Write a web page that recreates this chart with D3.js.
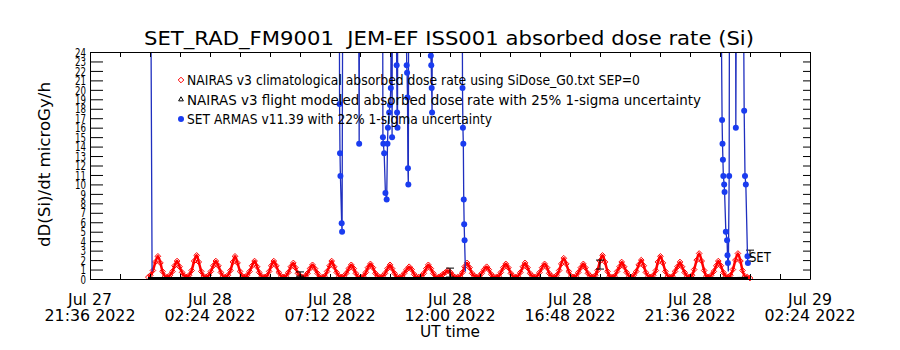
<!DOCTYPE html>
<html>
<head>
<meta charset="utf-8">
<script src="https://cdnjs.cloudflare.com/ajax/libs/d3/7.8.5/d3.min.js"></script>
<style>
  body { margin: 0; background: #fff; }
  text { font-family: 'DejaVu Sans', sans-serif; fill: #000; }
</style>
</head>
<body>
<div id="chart-area"></div>
<script>
// Data

// Axis range and tick labels
const timeDomain = ['2022-07-27 21:36', '2022-07-29 02:24'];
const tickLine1 = ['Jul 27', 'Jul 28', 'Jul 28', 'Jul 28', 'Jul 28', 'Jul 28', 'Jul 29'];
const tickLine2 = ['21:36 2022', '02:24 2022', '07:12 2022', '12:00 2022', '16:48 2022', '21:36 2022', '02:24 2022'];
const doseTicks = d3.range(0, 25);

// NAIRAS v3 climatological dose rate (microGy/h), regular samples
const climStart = '2022-07-27 23:56';
const climStepMin = 5.8;
const climDose = [
  0.2, 0.4, 0.9, 1.8, 2.4, 1.7, 0.8, 0.3,
  0.2, 0.4, 0.8, 1.4, 1.9, 1.3, 0.7, 0.3,
  0.2, 0.4, 0.9, 1.9, 2.5, 1.8, 0.8, 0.3,
  0.2, 0.4, 0.8, 1.4, 1.9, 1.4, 0.7, 0.3,
  0.2, 0.4, 0.9, 1.8, 2.4, 1.7, 0.8, 0.3,
  0.2, 0.4, 0.8, 1.4, 1.9, 1.3, 0.7, 0.3,
  0.2, 0.3, 0.8, 1.4, 1.9, 1.4, 0.7, 0.3,
  0.2, 0.3, 0.7, 1.3, 1.7, 1.2, 0.6, 0.3,
  0.2, 0.3, 0.6, 1.1, 1.5, 1.1, 0.6, 0.2,
  0.2, 0.3, 0.8, 1.4, 1.9, 1.3, 0.7, 0.3,
  0.2, 0.3, 0.6, 1.1, 1.5, 1.1, 0.6, 0.2,
  0.2, 0.3, 0.7, 1.2, 1.6, 1.2, 0.6, 0.3,
  0.2, 0.3, 0.6, 1.1, 1.5, 1.1, 0.6, 0.2,
  0.2, 0.3, 0.6, 1.0, 1.3, 1.0, 0.5, 0.2,
  0.2, 0.3, 0.6, 1.1, 1.5, 1.1, 0.6, 0.2,
  0.2, 0.3, 0.5, 0.7, 0.9, 0.7, 0.4, 0.2,
  0.2, 0.3, 0.7, 1.3, 1.7, 1.2, 0.6, 0.3,
  0.2, 0.3, 0.6, 1.0, 1.3, 1.0, 0.5, 0.2,
  0.2, 0.3, 0.7, 1.2, 1.6, 1.2, 0.6, 0.3,
  0.2, 0.3, 0.7, 1.3, 1.7, 1.2, 0.6, 0.3,
  0.2, 0.3, 0.7, 1.2, 1.6, 1.2, 0.6, 0.3,
  0.2, 0.4, 0.9, 1.6, 2.2, 1.6, 0.8, 0.3,
  0.2, 0.3, 0.7, 1.2, 1.6, 1.2, 0.6, 0.3,
  0.2, 0.4, 0.9, 1.9, 2.5, 1.8, 0.8, 0.3,
  0.2, 0.3, 0.8, 1.3, 1.8, 1.3, 0.7, 0.3,
  0.2, 0.4, 0.8, 1.5, 2.0, 1.4, 0.7, 0.3,
  0.2, 0.4, 0.9, 1.8, 2.4, 1.7, 0.8, 0.3,
  0.2, 0.3, 0.8, 1.3, 1.8, 1.3, 0.7, 0.3,
  0.2, 0.4, 1.0, 2.0, 2.7, 1.9, 0.9, 0.3,
  0.2, 0.4, 0.8, 1.4, 1.9, 1.4, 0.7, 0.3,
  0.2, 0.4, 1.0, 2.0, 2.7, 1.9, 0.9, 0.3,
  0.2, 0.1
];

// NAIRAS v3 flight modeled dose rate, track along the flight (every 30 min)
const flightStart = '2022-07-27 23:55';
const flightStepMin = 30;
const flightTrack = [
  0.06, 0.05, 0.06, 0.05, 0.05, 0.06, 0.05, 0.05, 0.06, 0.05,
  0.05, 0.06, 0.05, 0.05, 0.06, 0.05, 0.05, 0.06, 0.05, 0.05,
  0.06, 0.05, 0.05, 0.06, 0.05, 0.05, 0.06, 0.05, 0.05, 0.06,
  0.05, 0.05, 0.06, 0.05, 0.05, 0.06, 0.05, 0.05, 0.06, 0.05,
  0.05, 0.06, 0.05, 0.05, 0.06, 0.05, 0.05, 0.06, 0.08
];
// flight modeled points with 1-sigma bars
const flightTimes = ['2022-07-28 06:00', '2022-07-28 12:00', '2022-07-28 18:00', '2022-07-29 00:00'];
const flightDose = [0.5, 0.65, 1.5, 2.65];
const flightLo = [0.3, 0.2, 1.05, 2.3];
const flightHi = [0.75, 1.15, 2.0, 3.05];

// SET ARMAS v11.39 measured dose rate (null = data gap, >24 is off scale)
const setTimes = [
  '2022-07-28 00:01', '2022-07-28 00:05', '2022-07-28 00:06',
  '2022-07-28 07:34', '2022-07-28 07:35', '2022-07-28 07:36', '2022-07-28 07:37', '2022-07-28 07:40', '2022-07-28 07:41', '2022-07-28 07:43',
  '2022-07-28 08:20', '2022-07-28 08:22', '2022-07-28 08:23',
  '2022-07-28 09:18', '2022-07-28 09:19', '2022-07-28 09:20', '2022-07-28 09:22', '2022-07-28 09:25', '2022-07-28 09:28',
  '2022-07-28 09:30', '2022-07-28 09:31', '2022-07-28 09:34', '2022-07-28 09:36', '2022-07-28 09:38', '2022-07-28 09:40',
  '2022-07-28 09:41', '2022-07-28 09:42',
  '2022-07-28 09:50', '2022-07-28 09:52', '2022-07-28 09:53', '2022-07-28 09:54', '2022-07-28 09:55',
  '2022-07-28 10:14', '2022-07-28 10:16', '2022-07-28 10:17', '2022-07-28 10:18', '2022-07-28 10:19', '2022-07-28 10:20', '2022-07-28 10:21',
  '2022-07-28 11:13', '2022-07-28 11:14', '2022-07-28 11:15', '2022-07-28 11:16', '2022-07-28 11:17', '2022-07-28 11:18',
  '2022-07-28 12:29', '2022-07-28 12:30', '2022-07-28 12:31', '2022-07-28 12:32', '2022-07-28 12:33', '2022-07-28 12:34',
  '2022-07-28 12:35', '2022-07-28 12:37', '2022-07-28 12:38',
  '2022-07-28 22:49', '2022-07-28 22:53', '2022-07-28 22:54', '2022-07-28 22:55', '2022-07-28 22:56', '2022-07-28 22:58',
  '2022-07-28 22:59', '2022-07-28 23:02', '2022-07-28 23:05', '2022-07-28 23:06', '2022-07-28 23:07', '2022-07-28 23:08',
  '2022-07-28 23:10', '2022-07-28 23:11',
  '2022-07-28 23:25', '2022-07-28 23:26', '2022-07-28 23:28',
  '2022-07-28 23:43', '2022-07-28 23:46', '2022-07-28 23:48', '2022-07-28 23:50', '2022-07-28 23:54', '2022-07-28 23:55'
];
const setDose = [
  40, 0.8, null,
  40, 18.5, 13.3, 10.9, 5.9, 5.0, 40,
  40, 14.3, 40,
  40, 15.0, 14.3, 13.3, 9.1, 8.4,
  14.3, 16.0, 17.6, 18.4, 20.2, 40,
  15.0, 40,
  40, 22.6, 17.6, 16.0, 40,
  40, 22.6, 21.8, 19.2, 11.7, 10.0, 40,
  40, 23.6, 22.6, 20.2, 17.6, 40,
  40, 20.2, 16.0, 14.3, 8.4, 5.8,
  4.1, 0.8, null,
  40, 16.8, 14.3, 12.6, 10.9, 10.0,
  9.2, 5.0, 4.1, 2.5, 1.7, 0.8,
  10.9, 40,
  40, 16.0, 40,
  40, 17.8, 10.9, 10.0, 2.4, 1.7
];

const legendLabels = [
  'NAIRAS v3 climatological absorbed dose rate using SiDose_G0.txt SEP=0',
  'NAIRAS v3 flight modeled absorbed dose rate with 25% 1-sigma uncertainty',
  'SET ARMAS v11.39 with 22% 1-sigma uncertainty'
];

// Layout
const margin = { left: 90, right: 90, top: 52, bottom: 71 };
const width = 900 - margin.left - margin.right;
const height = 350 - margin.top - margin.bottom;

const parseTime = d3.utcParse('%Y-%m-%d %H:%M');
const start = parseTime(timeDomain[0]);

const svg = d3.select('#chart-area')
    .append('svg')
    .attr('width', width + margin.left + margin.right)
    .attr('height', height + margin.top + margin.bottom);

const g = svg.append('g')
    .attr('transform', 'translate(' + margin.left + ', ' + margin.top + ')');

const x = d3.scaleUtc()
    .domain(timeDomain.map(parseTime))
    .range([0, width]);

const y = d3.scaleLinear()
    .domain([0, 24])
    .range([height, 0]);

// Title (two spaces kept after FM9001)
svg.append('text')
    .attr('x', 449)
    .attr('y', 45)
    .attr('text-anchor', 'middle')
    .attr('font-size', '19px')
    .attr('textLength', 610)
    .attr('lengthAdjust', 'spacingAndGlyphs')
    .text('SET_RAD_FM9001\u00a0\u00a0JEM-EF ISS001 absorbed dose rate (Si)');

// Y label
g.append('text')
    .attr('x', -(height / 2) + 1)
    .attr('y', -40)
    .attr('transform', 'rotate(-90)')
    .attr('text-anchor', 'middle')
    .attr('font-size', '16px')
    .attr('textLength', 165)
    .attr('lengthAdjust', 'spacingAndGlyphs')
    .text('dD(Si)/dt microGy/h');

// X label
g.append('text')
    .attr('x', width / 2)
    .attr('y', height + 58)
    .attr('text-anchor', 'middle')
    .attr('font-size', '15px')
    .attr('textLength', 60)
    .attr('lengthAdjust', 'spacingAndGlyphs')
    .text('UT time');

// Clip for data marks
svg.append('defs').append('clipPath')
    .attr('id', 'plot-clip')
    .append('rect')
    .attr('x', 0).attr('y', 0)
    .attr('width', width).attr('height', height + 3);

const plot = g.append('g').attr('clip-path', 'url(#plot-clip)');

// NAIRAS climatological: red line of open diamonds
const clim = climDose.map((v, i) => ({ t: d3.utcMinute.offset(parseTime(climStart), i * climStepMin), v: v }));
plot.append('path')
    .datum(clim)
    .attr('fill', 'none')
    .attr('stroke', '#ff0000')
    .attr('stroke-width', 2.5)
    .attr('stroke-linejoin', 'round')
    .attr('d', d3.line().curve(d3.curveMonotoneX).x((d) => x(d.t)).y((d) => y(d.v)));

const diamond = d3.symbol(d3.symbolDiamond2, 20);
plot.selectAll('.clim')
    .data(clim)
    .enter()
    .append('path')
    .attr('class', 'clim')
    .attr('d', diamond)
    .attr('transform', (d) => 'translate(' + x(d.t) + ',' + y(d.v) + ')')
    .attr('fill', 'none')
    .attr('stroke', '#ff0000')
    .attr('stroke-width', 1);

// NAIRAS flight modeled track
const flight = flightTrack.map((v, i) => ({ t: d3.utcMinute.offset(parseTime(flightStart), i * flightStepMin), v: v }));
plot.append('path')
    .datum(flight)
    .attr('fill', 'none')
    .attr('stroke', '#000')
    .attr('stroke-width', 3)
    .attr('d', d3.line().x((d) => x(d.t)).y((d) => y(d.v)));

// flight modeled error bars
const bars = flightTimes.map((t, i) => ({ t: parseTime(t), v: flightDose[i], lo: flightLo[i], hi: flightHi[i] }));
const barG = plot.selectAll('.bar')
    .data(bars)
    .enter()
    .append('g')
    .attr('class', 'bar')
    .attr('stroke', '#000')
    .attr('stroke-width', 1);
barG.append('line')
    .attr('x1', (d) => x(d.t)).attr('x2', (d) => x(d.t))
    .attr('y1', (d) => y(d.lo)).attr('y2', (d) => y(d.hi));
barG.append('line')
    .attr('x1', (d) => x(d.t) - 4).attr('x2', (d) => x(d.t) + 4)
    .attr('y1', (d) => y(d.lo)).attr('y2', (d) => y(d.lo));
barG.append('line')
    .attr('x1', (d) => x(d.t) - 4).attr('x2', (d) => x(d.t) + 4)
    .attr('y1', (d) => y(d.hi)).attr('y2', (d) => y(d.hi));

// SET ARMAS: blue line with filled dots
const setData = setTimes.map((t, i) => ({ t: parseTime(t), v: setDose[i] }));
plot.append('path')
    .datum(setData)
    .attr('fill', 'none')
    .attr('stroke', '#1f2fbf')
    .attr('stroke-width', 1.3)
    .attr('d', d3.line()
        .defined((d) => d.v !== null)
        .x((d) => x(d.t))
        .y((d) => y(d.v)));

plot.selectAll('.set')
    .data(setData.filter((d) => d.v !== null && d.v <= 24 && d.v > 1))
    .enter()
    .append('circle')
    .attr('class', 'set')
    .attr('cx', (d) => x(d.t))
    .attr('cy', (d) => y(d.v))
    .attr('r', 3)
    .attr('fill', '#1a3cf0');

// end label
const last = setData[setData.length - 1];
g.append('text')
    .attr('x', x(last.t) + 1)
    .attr('y', y(last.v) - 1)
    .attr('font-size', '14px')
    .attr('textLength', 22)
    .attr('lengthAdjust', 'spacingAndGlyphs')
    .text('SET');

// Axes
const minorTicks = d3.range(0, 25).map((k) => d3.utcMinute.offset(start, 72 * k));
const majorTicks = minorTicks.filter((d, i) => i % 4 === 0);

g.append('g')
    .attr('class', 'x-axis')
    .attr('transform', 'translate(0, ' + height + ')')
    .call(d3.axisBottom(x).tickValues(minorTicks).tickSize(-5).tickSizeOuter(0).tickFormat(''));

g.append('g')
    .attr('class', 'x-axis-top')
    .call(d3.axisTop(x).tickValues(minorTicks).tickSize(-5).tickSizeOuter(0).tickFormat(''));

const yAxisCall = d3.axisLeft(y)
    .tickValues(doseTicks)
    .tickSize(-13)
    .tickSizeOuter(0)
    .tickPadding(4);
g.append('g')
    .attr('class', 'y-axis')
    .call(yAxisCall)
    .selectAll('text')
    .attr('font-size', '13px')
    .attr('font-family', 'DejaVu Sans')
    .attr('textLength', (d) => String(d).length * 5.5)
    .attr('lengthAdjust', 'spacingAndGlyphs');

g.append('g')
    .attr('class', 'y-axis-right')
    .attr('transform', 'translate(' + width + ', 0)')
    .call(d3.axisRight(y).tickValues(doseTicks).tickSize(-7).tickSizeOuter(0).tickFormat(''));

g.selectAll('.domain').attr('stroke', '#000');
g.selectAll('.tick line').attr('stroke', '#000');

// two-line date labels
const dateLabels = g.selectAll('.date-label')
    .data(majorTicks)
    .enter()
    .append('text')
    .attr('class', 'date-label')
    .attr('text-anchor', 'middle')
    .attr('font-size', '15px');
dateLabels.append('tspan')
    .attr('x', (d) => x(d))
    .attr('y', height + 26)
    .attr('textLength', 44)
    .attr('lengthAdjust', 'spacingAndGlyphs')
    .text((d, i) => tickLine1[i]);
dateLabels.append('tspan')
    .attr('x', (d) => x(d))
    .attr('y', height + 42)
    .attr('textLength', 91)
    .attr('lengthAdjust', 'spacingAndGlyphs')
    .text((d, i) => tickLine2[i]);

// Legend
const legend = g.append('g').attr('class', 'legend');
const legendWidths = [453, 514, 305];
legendLabels.forEach((label, i) => {
    const ly = 28 + i * 19.5;
    let mark;
    if (i === 0) {
        mark = legend.append('path').attr('d', d3.symbol(d3.symbolDiamond2, 20))
            .attr('fill', 'none').attr('stroke', '#ff0000');
    } else if (i === 1) {
        mark = legend.append('path').attr('d', d3.symbol(d3.symbolTriangle2, 16))
            .attr('fill', 'none').attr('stroke', '#000');
    } else {
        mark = legend.append('circle').attr('r', 3).attr('fill', '#1a3cf0');
    }
    mark.attr('transform', 'translate(91, ' + ly + ')');
    legend.append('text')
        .attr('x', 97)
        .attr('y', ly + 5)
        .attr('font-size', '14px')
        .attr('textLength', legendWidths[i])
        .attr('lengthAdjust', 'spacingAndGlyphs')
        .text(label);
});
</script>
</body>
</html>
